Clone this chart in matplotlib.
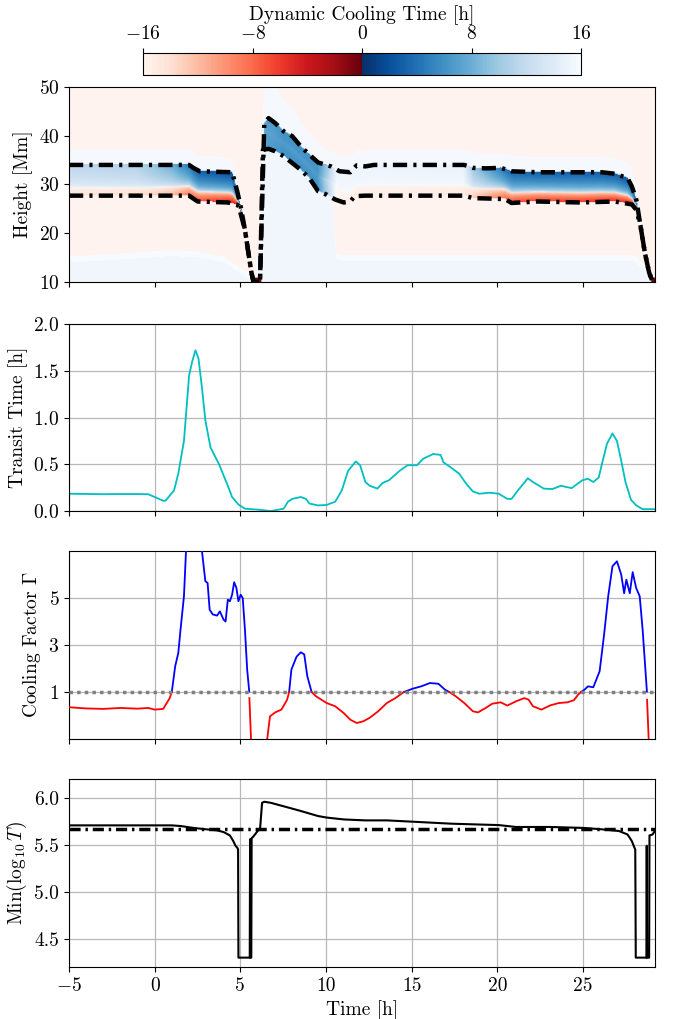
import numpy as np
import matplotlib
matplotlib.use("Agg")
import matplotlib.pyplot as plt
from matplotlib.colors import ListedColormap

plt.rcParams['font.family'] = 'serif'
plt.rcParams['font.serif'] = ['cmr10']
plt.rcParams['mathtext.fontset'] = 'cm'
plt.rcParams['axes.formatter.use_mathtext'] = True
plt.rcParams['axes.unicode_minus'] = True
plt.rcParams['font.size'] = 14

# ---------------- data ----------------
xlim = (-5, 29.2)
xticks = [-5, 0, 5, 10, 15, 20, 25]

# Panel 1: loop boundaries (Mm)
up_t = [-5, 2.01, 2.26, 2.63, 4.52, 4.64, 4.84, 5.02, 5.27, 5.47, 5.65, 5.77, 6.15, 6.40, 6.65, 7.03,
        7.53, 8.03, 8.53, 9.03, 9.54, 10.29, 10.79, 11.42, 11.79, 12.30, 12.80, 18.07, 18.57, 19.32,
        20.20, 20.83, 22.33, 26.10, 26.85, 27.60, 27.85, 28.11, 28.36, 28.61, 28.86, 29.06, 29.2]
up_h = [34.0, 34.0, 33.4, 32.7, 32.5, 31.0, 28.3, 25.5, 20.7, 16.0, 11.9, 10.0, 10.0, 42.6, 43.6, 42.6,
        40.9, 39.9, 37.8, 36.1, 34.5, 33.7, 32.7, 32.5, 33.9, 33.7, 34.0, 34.0, 33.4, 33.3,
        33.4, 32.7, 32.5, 32.5, 32.2, 31.3, 29.6, 26.9, 21.4, 16.0, 11.9, 10.1, 10.0]
lo_t = [-5, 2.01, 2.13, 2.51, 4.27, 4.77, 4.92, 5.02, 5.27, 5.47, 5.65, 5.77, 6.15, 6.32, 6.65, 7.03,
        7.53, 8.03, 8.53, 9.03, 9.54, 10.04, 10.54, 11.04, 11.42, 11.67, 12.30, 18.07, 18.57, 20.45,
        20.83, 22.33, 24.84, 26.85, 27.85, 28.11, 28.36, 28.61, 28.86, 29.06, 29.2]
lo_h = [27.7, 27.7, 27.4, 26.5, 26.3, 25.9, 25.5, 24.0, 20.7, 16.0, 11.9, 10.0, 10.0, 37.1, 37.3, 36.8,
        35.8, 34.4, 33.0, 31.3, 28.6, 27.9, 26.9, 26.3, 26.5, 27.6, 27.7, 27.7, 27.2, 27.0,
        26.2, 26.5, 26.3, 26.5, 25.9, 24.8, 21.4, 16.0, 11.9, 10.1, 10.0]

# Panel 1: dynamic cooling time inside / around the loop (h), at key times
zone_t   = [-5, -1, 1, 2.5, 4.0, 4.9, 5.8, 6.2, 6.5, 7.5, 9.5, 10.1, 10.6, 11.0, 18.0, 18.6, 20.5, 21.0, 27.0, 28.0, 29.2]
band_top = [11.5, 11, 8, 3, 2.2, 1.8, 1.8, 10, 7, 6, 6, 10, 15, 15.3, 15, 10, 4, 3.2, 2.8, 2, 2]
band_mid = [16, 16, 16, 16, 16, 16, 16, 10, 7.5, 7, 7, 12, 16, 16, 16, 16, 16, 16, 16, 16, 16]
band_bot = [-14.5, -14, -12, -7, -5.5, -4.5, -4.5, 10, 7, 6, 6, 11, 16, -15.5, -15, -13, -8, -6.5, -5.5, -4.5, -4.5]
band_midfrac = [0.25, 0.25, 0.28, 0.32, 0.32, 0.32, 0.32, 0.5, 0.5, 0.5, 0.5, 0.5, 0.5, 0.32, 0.32, 0.32, 0.32, 0.32, 0.32, 0.32, 0.32]
halo_above = [3, 3, 3, 3, 3, 2, 0, 12, 9, 6, 4, 3, 3, 3, 3, 3, 3, 3, 3, 3, 0]
low_top    = [14, 14.8, 15.3, 15, 14, 12, 10, 40, 40, 40, 40, 40, 14.5, 14.3, 14.3, 14.3, 14.3, 14.3, 14.3, 14.3, 10]
bg_value = -15.8
low_value = 15.4
foot_value = -0.4

# Panel 2: transit time (h)
tt_t = [-5, -3, -1.5, -0.38, 0.50, 0.63, 1.13, 1.38, 1.71, 2.01, 2.18, 2.38, 2.56, 2.76, 2.96, 3.26, 3.76,
        4.07, 4.27, 4.52, 4.89, 5.27, 6.02, 6.78, 7.53, 7.78, 8.03, 8.53, 8.83, 9.03, 9.54, 10.04,
        10.54, 10.92, 11.29, 11.74, 11.99, 12.30, 12.55, 13.00, 13.30, 13.68, 14.30, 14.76, 15.31,
        15.68, 16.26, 16.69, 16.86, 17.26, 17.77, 18.19, 18.57, 18.95, 19.57, 20.08, 20.58, 20.83,
        21.20, 21.78, 22.08, 22.71, 23.21, 23.71, 24.34, 24.97, 25.29, 25.60, 25.92, 26.10, 26.40,
        26.72, 26.98, 27.23, 27.48, 27.80, 28.11, 28.48, 29.2]
tt_v = [0.185, 0.18, 0.182, 0.18, 0.11, 0.11, 0.22, 0.40, 0.75, 1.45, 1.59, 1.72, 1.63, 1.32, 0.97, 0.68, 0.50,
        0.36, 0.27, 0.15, 0.07, 0.025, 0.015, 0.0, 0.025, 0.10, 0.13, 0.15, 0.13, 0.08, 0.06, 0.065,
        0.10, 0.22, 0.43, 0.53, 0.49, 0.31, 0.27, 0.24, 0.30, 0.33, 0.43, 0.49, 0.49,
        0.56, 0.61, 0.60, 0.52, 0.47, 0.40, 0.29, 0.21, 0.185, 0.196, 0.185, 0.13, 0.13,
        0.22, 0.35, 0.31, 0.24, 0.235, 0.27, 0.245, 0.33, 0.345, 0.31, 0.36, 0.50, 0.72,
        0.83, 0.75, 0.54, 0.31, 0.12, 0.06, 0.02, 0.02]

# Panel 3: cooling factor Gamma
cf_t = [-5, -4, -3, -2, -1, -0.38, 0.0, 0.50, 0.88, 1.00, 1.20, 1.38, 1.51, 1.71, 1.83, 2.1, 2.5, 2.76,
        2.96, 3.09, 3.21, 3.39, 3.64, 3.81, 4.02, 4.14, 4.27, 4.39, 4.52, 4.64, 4.77, 4.89, 5.02, 5.14,
        5.27, 5.40, 5.52, 5.53, 5.65, 6.50, 6.57, 6.73, 7.03, 7.40, 7.73, 7.85, 7.98, 8.28, 8.53, 8.73,
        8.91, 9.16, 9.41, 10.04, 10.54, 11.04, 11.42, 11.79, 12.17, 12.55, 13.05, 13.55, 14.05, 14.55,
        15.06, 15.56, 16.06, 16.56, 16.94, 17.19, 17.57, 18.07, 18.57, 18.87, 19.32, 19.70, 20.20,
        20.58, 21.08, 21.58, 21.83, 22.08, 22.58, 23.09, 23.59, 24.09, 24.47, 24.72, 24.89, 25.09,
        25.29, 25.60, 25.97, 26.22, 26.47, 26.72, 26.98, 27.23, 27.40, 27.53, 27.73, 27.90, 28.10,
        28.31, 28.48, 28.73, 28.74, 28.86]
cf_v = [0.35, 0.30, 0.28, 0.32, 0.29, 0.32, 0.25, 0.28, 0.74, 1.00, 2.10, 2.66, 3.65, 5.07, 7.0, 9.5, 9.5, 7.0,
        5.71, 5.64, 4.50, 4.30, 4.25, 4.43, 4.08, 4.00, 4.93, 4.86, 5.14, 5.67, 5.43, 4.86, 5.14, 5.00,
        3.65, 1.95, 1.02, 0.74, -1.5, -1.5, -1.0, -0.04, 0.13, 0.25, 0.67, 1.00, 1.95, 2.50, 2.69, 2.60,
        1.67, 1.00, 0.82, 0.53, 0.39, 0.10, -0.18, -0.32, -0.25, -0.10, 0.18, 0.53, 0.74, 1.00,
        1.14, 1.24, 1.38, 1.35, 1.10, 1.00, 0.82, 0.53, 0.18, 0.13, 0.32, 0.50, 0.56,
        0.42, 0.60, 0.74, 0.67, 0.39, 0.25, 0.43, 0.53, 0.56, 0.65, 0.89, 1.00, 1.10,
        1.24, 1.20, 1.88, 3.37, 5.07, 6.35, 6.56, 6.00, 5.20, 5.78, 5.20, 6.10, 5.43,
        5.07, 3.65, 1.02, 0.67, -1.5]
cf_threshold = 1.0

# Panel 4: minimum log10 temperature
mt_t = [-5, 1.0, 1.51, 2.26, 3.01, 3.64, 4.02, 4.39, 4.59, 4.72, 4.82, 4.87, 4.89, 5.55, 5.57, 5.59, 5.64,
        5.66, 5.77, 6.02, 6.15, 6.27, 6.40, 6.78, 7.53, 8.53, 9.54, 10.04, 11.04, 12.30, 13.55, 15.06,
        17.31, 18.57, 20.08, 21.08, 23.09, 25.02, 26.10, 27.10, 27.60, 27.85, 27.98, 28.05, 28.08,
        28.70, 28.72, 28.74, 28.86, 28.88, 29.06, 29.2]
mt_v = [5.707, 5.707, 5.70, 5.68, 5.665, 5.654, 5.636, 5.60, 5.54, 5.49, 5.47, 5.45, 4.30, 4.30, 5.56, 4.30, 4.30,
        5.57, 5.59, 5.65, 5.665, 5.947, 5.958, 5.947, 5.91, 5.86, 5.806, 5.79, 5.77, 5.76, 5.76, 5.746,
        5.725, 5.718, 5.71, 5.69, 5.69, 5.68, 5.665, 5.647, 5.61, 5.54, 5.48, 5.45, 4.30,
        4.30, 5.49, 4.30, 4.30, 5.60, 5.61, 5.65]
mt_threshold = 5.667

# ---------------- figure ----------------
fig = plt.figure(figsize=(6.73, 10.19), dpi=100)
L, W = 0.1025, 0.8707
ax1 = fig.add_axes([L, 0.7233, W, 0.1914])
ax2 = fig.add_axes([L, 0.4985, W, 0.1835], sharex=ax1)
ax3 = fig.add_axes([L, 0.2748, W, 0.1845], sharex=ax1)
ax4 = fig.add_axes([L, 0.0510, W, 0.1845], sharex=ax1)
cax = fig.add_axes([0.2125, 0.9264, 0.6508, 0.0216])

# colormap: Reds for negative, reversed Blues for positive
cols = np.vstack([plt.cm.Reds(np.linspace(0, 1, 128)), plt.cm.Blues(np.linspace(1, 0, 128))])
cmap = ListedColormap(cols)

def to_s(v):
    v = np.asarray(v, float)
    return np.sign(v) * (1 - np.abs(v) / 16.0)

def from_s(s):
    return np.where(s >= 0, 16 * (1 - s), -16 * (1 + s))

Tg = np.arange(xlim[0], xlim[1] + 1e-9, 0.05)
Hg = np.arange(10, 50.001, 0.2)
TT, HH = np.meshgrid(Tg, Hg)
U = np.interp(Tg, up_t, up_h)[None, :]
Lo = np.interp(Tg, lo_t, lo_h)[None, :]
sT = np.interp(Tg, zone_t, to_s(band_top))[None, :]
sM = np.interp(Tg, zone_t, to_s(band_mid))[None, :]
sB = np.interp(Tg, zone_t, to_s(band_bot))[None, :]
mf = np.interp(Tg, zone_t, band_midfrac)[None, :]
halo = np.interp(Tg, zone_t, halo_above)[None, :]
lt = np.minimum(np.interp(Tg, zone_t, low_top)[None, :], Lo)

S = np.full(TT.shape, float(to_s(bg_value)))
S = np.where((HH > U) & (HH < U + halo), 0.01, S)
S = np.where(HH < lt + 1.2, 0.0, S)
S = np.where(HH < lt, to_s(low_value), S)
span = np.maximum(U - Lo, 1e-6)
z = (HH - Lo) / span
fu = np.clip((z - mf) / (1 - mf), 0, 1) ** 0.35
fl = np.clip(1 - z / mf, 0, 1) ** 0.5
upper_part = sM + (sT - sM) * fu
lower_part = sM + (sB - sM) * fl
lower_part = np.where(np.sign(sB) != np.sign(sM), sB * fl, lower_part)
inside = (HH >= Lo) & (HH <= U) & (U - Lo > 0.3)
S = np.where(inside, np.where(z >= mf, upper_part, lower_part), S)
V = from_s(S)
foot = (HH < 10.8) & (((TT > 5.75) & (TT < 6.2)) | (TT > 28.95))
V = np.where(foot, foot_value, V)

im = ax1.imshow(V, origin='lower', aspect='auto', cmap=cmap, vmin=-16, vmax=16,
                extent=[Tg[0] - 0.025, Tg[-1] + 0.025, 9.9, 50.1],
                interpolation='bilinear', interpolation_stage='rgba', zorder=0)
dd = (3.2, 1.4, 0.7, 1.4)
ax1.plot(up_t, up_h, color='k', lw=3.2, dashes=dd, zorder=3)
ax1.plot(lo_t, lo_h, color='k', lw=3.2, dashes=dd, zorder=3)
ax1.set_ylim(10, 50)
ax1.set_yticks([10, 20, 30, 40, 50])
ax1.set_ylabel('Height [Mm]')

cb = fig.colorbar(im, cax=cax, orientation='horizontal')
cb.set_ticks([-16, -8, 0, 8, 16])
cax.xaxis.set_ticks_position('top')
cax.xaxis.set_label_position('top')
cb.set_label('Dynamic Cooling Time [h]', labelpad=4)

# Panel 2
ax2.plot(tt_t, tt_v, color='c', lw=1.3)
ax2.set_ylim(0, 2.0)
ax2.set_yticks([0.0, 0.5, 1.0, 1.5, 2.0])
ax2.set_ylabel('Transit Time [h]')

# Panel 3
cf_t_a = np.array(cf_t)
cf_v_a = np.array(cf_v)
blue = np.where(cf_v_a >= cf_threshold, cf_v_a, np.nan)
red = np.where(cf_v_a <= cf_threshold, cf_v_a, np.nan)
ax3.plot(cf_t_a, blue, color='b', lw=1.3, zorder=3)
ax3.plot(cf_t_a, red, color='r', lw=1.3, zorder=3)
ax3.axhline(cf_threshold, color='grey', lw=2.5, linestyle=(0, (1, 1.2)), zorder=4)
ax3.set_ylim(-1, 7)
ax3.set_yticks([1, 3, 5])
ax3.set_ylabel(r'Cooling Factor $\Gamma$')

# Panel 4
ax4.plot(mt_t, mt_v, color='k', lw=1.5, zorder=3)
ax4.axhline(mt_threshold, color='k', lw=2.5, dashes=(3.2, 1.4, 0.7, 1.4), zorder=4)
ax4.set_ylim(4.2, 6.2)
ax4.set_yticks([4.5, 5.0, 5.5, 6.0])
ax4.set_yticklabels(['4.5', '5.0', '5.5', '6.0'])
ax4.set_ylabel(r'Min$(\log_{10}T)$')
ax4.set_xlabel('Time [h]')

for ax in (ax2, ax3, ax4):
    ax.grid(True, color='#b8b8b8', lw=0.9)
    ax.set_axisbelow(True)
for ax in (ax1, ax2, ax3, ax4):
    ax.set_xlim(*xlim)
    ax.set_xticks(xticks)
    ax.tick_params(labelsize=14)
for ax in (ax1, ax2, ax3):
    ax.tick_params(labelbottom=False)
ax4.set_xticklabels([r'$-5$', '0', '5', '10', '15', '20', '25'])

fig.savefig('out.png', dpi=100)
